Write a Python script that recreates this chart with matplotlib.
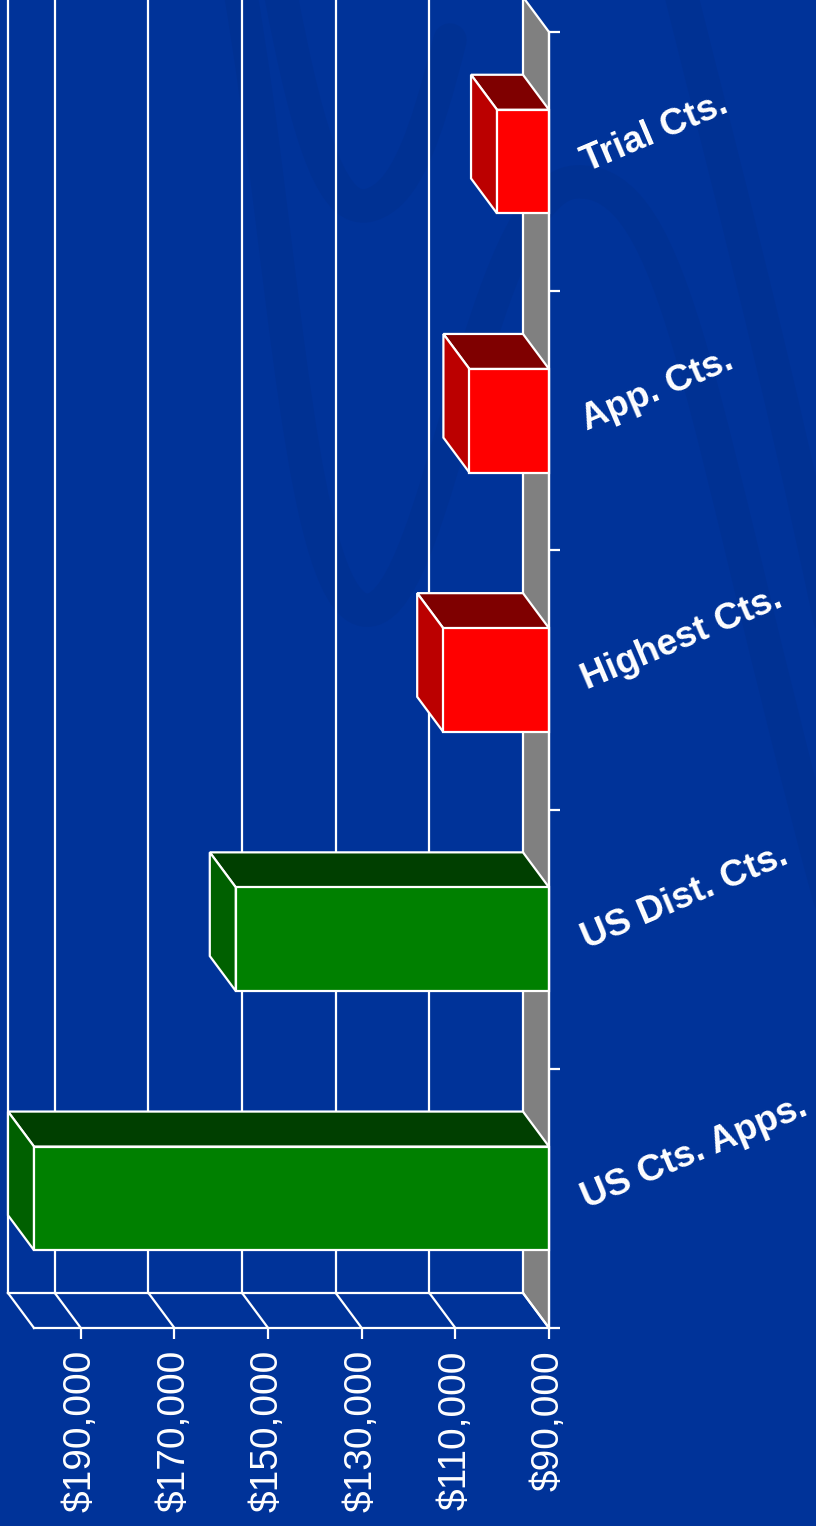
import matplotlib.pyplot as plt
from matplotlib.patches import Polygon, PathPatch
from matplotlib.path import Path

plt.rcParams['font.family'] = ['Liberation Sans', 'DejaVu Sans']

# chart data
categories = ["Trial Cts.", "App. Cts.", "Highest Cts.", "US Dist. Cts.", "US Cts. Apps."]
values = [101100, 107000, 112600, 156900, 200000]
bar_colors = ["red", "red", "red", "green", "green"]
tick_values = [90000, 110000, 130000, 150000, 170000, 190000]
tick_labels = ["$90,000", "$110,000", "$130,000", "$150,000", "$170,000", "$190,000"]
axis_min, axis_max = 90000, 200000

# face colours for the fake 3d boxes: front, side, top
shades = {
    "red": ("#ff0000", "#bb0000", "#7f0000"),
    "green": ("#008000", "#006000", "#003f00"),
}
bg = "#003399"

# layout: value axis runs right->left, categories top->bottom
W, H = 816, 1526
px_per_val = 515 / 110000
px_per_cat = 259.2
x_front0 = 549          # pixel of $90,000 on the front plane
y_cat0 = 161.6          # pixel of first category centre
depth_px = (26, 35)     # back plane offset (left, up) in pixels

DX = depth_px[0] / px_per_val
DY = -depth_px[1] / px_per_cat
half = 0.2

fig = plt.figure(figsize=(W / 100, H / 100), dpi=100, facecolor=bg)
ax = fig.add_axes([0, 0, 1, 1])
ax.set_facecolor(bg)
ax.set_xlim(axis_min + x_front0 / px_per_val, axis_min - (W - x_front0) / px_per_val)
ax.set_ylim((H - y_cat0) / px_per_cat, -y_cat0 / px_per_cat)

# faint background swooshes (decoration), in axes fraction
def P(x, y):
    return (x / W, 1 - y / H)

swooshes = [
    [P(280, -10), P(310, 150), P(335, 215), P(370, 205), P(405, 195), P(425, 140), P(450, 40)],
    [P(240, -10), P(285, 250), P(300, 620), P(370, 610), P(440, 600), P(480, 190), P(575, 182),
     P(680, 175), P(700, 420), P(830, 900)],
    [P(680, -10), P(720, 150), P(780, 380), P(830, 620)],
]
codes_list = [
    [Path.MOVETO] + [Path.CURVE4] * 6,
    [Path.MOVETO] + [Path.CURVE4] * 9,
    [Path.MOVETO] + [Path.CURVE4] * 3,
]
for verts, codes in zip(swooshes, codes_list):
    ax.add_patch(PathPatch(Path(verts, codes), facecolor="none", edgecolor="#002f8c",
                           lw=24, alpha=0.45, transform=ax.transAxes, zorder=0,
                           capstyle="round"))

lw = 1.6
top_y = -0.5 + DY
bot_y = len(categories) - 0.5

# back wall grid lines and left edge
for v in tick_values[1:] + [axis_max]:
    ax.plot([v + DX, v + DX], [top_y, bot_y + DY], color="white", lw=lw, zorder=1)

# grey side wall
ax.add_patch(Polygon([(axis_min, -0.5), (axis_min + DX, top_y),
                      (axis_min + DX, bot_y + DY), (axis_min, bot_y)],
                     closed=True, facecolor="#808080", edgecolor="white", lw=lw, zorder=1))

# floor
ax.plot([axis_min + DX, axis_max + DX], [bot_y + DY, bot_y + DY], color="white", lw=lw, zorder=1)
for v in tick_values + [axis_max]:
    ax.plot([v + DX, v], [bot_y + DY, bot_y], color="white", lw=lw, zorder=1)

# bars
for i, (v, c) in enumerate(zip(values, bar_colors)):
    front, side, top = shades[c]
    y0, y1 = i - half, i + half
    ax.add_patch(Polygon([(axis_min, y0), (axis_min + DX, y0 + DY), (v + DX, y0 + DY), (v, y0)],
                         closed=True, facecolor=top, edgecolor="white", lw=lw, zorder=3))
    ax.add_patch(Polygon([(v, y0), (v + DX, y0 + DY), (v + DX, y1 + DY), (v, y1)],
                         closed=True, facecolor=side, edgecolor="white", lw=lw, zorder=3))
    ax.add_patch(Polygon([(axis_min, y0), (v, y0), (v, y1), (axis_min, y1)],
                         closed=True, facecolor=front, edgecolor="white", lw=lw, zorder=4))

# axes spines used as the front value axis and category axis
for s in ["left", "top"]:
    ax.spines[s].set_visible(False)
ax.spines["bottom"].set_position(("data", bot_y))
ax.spines["bottom"].set_bounds(axis_min, axis_max)
ax.spines["right"].set_position(("data", axis_min))
ax.spines["right"].set_bounds(-0.5, bot_y)
for s in ["bottom", "right"]:
    ax.spines[s].set_color("white")
    ax.spines[s].set_linewidth(lw)
    ax.spines[s].set_zorder(5)

ax.set_xticks(tick_values)
ax.set_xticklabels(tick_labels)
ax.tick_params(axis="x", direction="out", length=8, width=lw, colors="white",
               pad=8, labelsize=28, labelrotation=90)
ax.yaxis.set_ticks_position("right")
ax.set_yticks([k - 0.5 for k in range(len(categories) + 1)])
ax.set_yticklabels([])
ax.tick_params(axis="y", direction="out", length=8, width=lw, colors="white")

# category labels
label_x = axis_min - 38 / px_per_val
for i, name in enumerate(categories):
    ax.text(label_x, i + 10 / px_per_cat, name, rotation=23, rotation_mode="anchor",
            ha="left", va="baseline", fontsize=26.5, fontweight="bold", color="white",
            zorder=6)

fig.savefig("out.png", dpi=100, facecolor=bg)
